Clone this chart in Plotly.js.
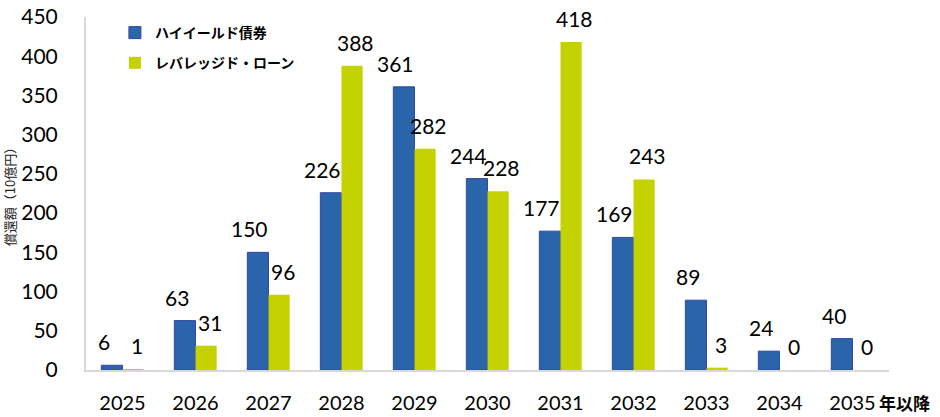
<!DOCTYPE html>
<html>
<head>
<meta charset="utf-8">
<script src="https://cdn.plot.ly/plotly-3.0.1.min.js"></script>
<style>
html, body { margin: 0; padding: 0; background: #fff; }
#chart { width: 940px; height: 417px; }
</style>
</head>
<body>
<div id="chart"></div>
<script>
// Chart data.
const years = ['2025', '2026', '2027', '2028', '2029', '2030', '2031', '2032', '2033', '2034', '2035'];
const lastYearSuffix = '年以降';
const highYield = [6, 63, 150, 226, 361, 244, 177, 169, 89, 24, 40];
const leveragedLoan = [1, 31, 96, 388, 282, 228, 418, 243, 3, 0, 0];
const seriesNames = ['ハイイールド債券', 'レバレッジド・ローン'];
const yTitle = '償還額（10億円）';

const numFont = 'Lato, "Noto Sans CJK JP", sans-serif';
const jpFont = '"Noto Sans CJK JP", sans-serif';

let graph_data = [{
  type: 'bar',
  x: years,
  y: highYield,
  name: seriesNames[0],
  legendgroup: 'a',
  marker: {color: '#2a64ab', line: {color: '#3446a6', width: 1}},
  hoverinfo: 'x+y'
}, {
  type: 'bar',
  x: years,
  y: leveragedLoan,
  name: seriesNames[1],
  legendgroup: 'b',
  marker: {color: '#c3d200', line: {color: '#c3d200', width: 0}},
  hoverinfo: 'x+y'
}];

// Value labels above each bar (category axis: x given as category index).
let annotations = [];
years.forEach(function(yr, i){
  annotations.push({
    x: i, y: highYield[i], xref: 'x', yref: 'y',
    text: String(highYield[i]), showarrow: false,
    xanchor: 'center', yanchor: 'bottom', xshift: -19, yshift: 9,
    font: {family: numFont, size: 21, color: '#000'}
  });
  annotations.push({
    x: i, y: leveragedLoan[i], xref: 'x', yref: 'y',
    text: String(leveragedLoan[i]), showarrow: false,
    xanchor: 'center', yanchor: 'bottom', xshift: 14, yshift: 9,
    font: {family: numFont, size: 21, color: '#000'}
  });
});
// Suffix after the last year tick.
annotations.push({
  x: years.length - 1, y: 0, xref: 'x', yref: 'y',
  text: '<b>' + lastYearSuffix + '</b>', showarrow: false,
  xanchor: 'left', yanchor: 'middle', xshift: 24, yshift: -32,
  font: {family: jpFont, size: 17, color: '#000'}
});

let layout = {
  width: 940,
  height: 417,
  margin: {l: 86, r: 51, t: 17, b: 47},
  paper_bgcolor: '#fff',
  plot_bgcolor: '#fff',
  barmode: 'group',
  bargap: 0.42,
  bargroupgap: 0,
  font: {family: numFont, color: '#000'},
  showlegend: true,
  legend: {
    x: 0.036, y: 1.0, xanchor: 'left', yanchor: 'top',
    bgcolor: 'rgba(0,0,0,0)',
    traceorder: 'grouped',
    tracegroupgap: 9,
    font: {family: jpFont, size: 14, color: '#000', weight: 'bold'}
  },
  xaxis: {
    type: 'category',
    range: [-0.5, years.length - 0.5],
    showgrid: false,
    zeroline: false,
    showline: true,
    linecolor: '#d9d9d9',
    linewidth: 2,
    ticks: '',
    ticklabelstandoff: 14,
    tickfont: {family: numFont, size: 20, color: '#000'}
  },
  yaxis: {
    range: [0, 450],
    dtick: 50,
    showgrid: false,
    zeroline: false,
    showline: true,
    linecolor: '#d9d9d9',
    linewidth: 2,
    ticks: '',
    ticklabelstandoff: 22,
    tickfont: {family: numFont, size: 21, color: '#000'},
    title: {text: yTitle, standoff: 8, font: {family: jpFont, size: 13, color: '#222'}}
  },
  annotations: annotations
};

let config = {displayModeBar: false, responsive: false};
Plotly.newPlot('chart', graph_data, layout, config);
</script>
</body>
</html>
